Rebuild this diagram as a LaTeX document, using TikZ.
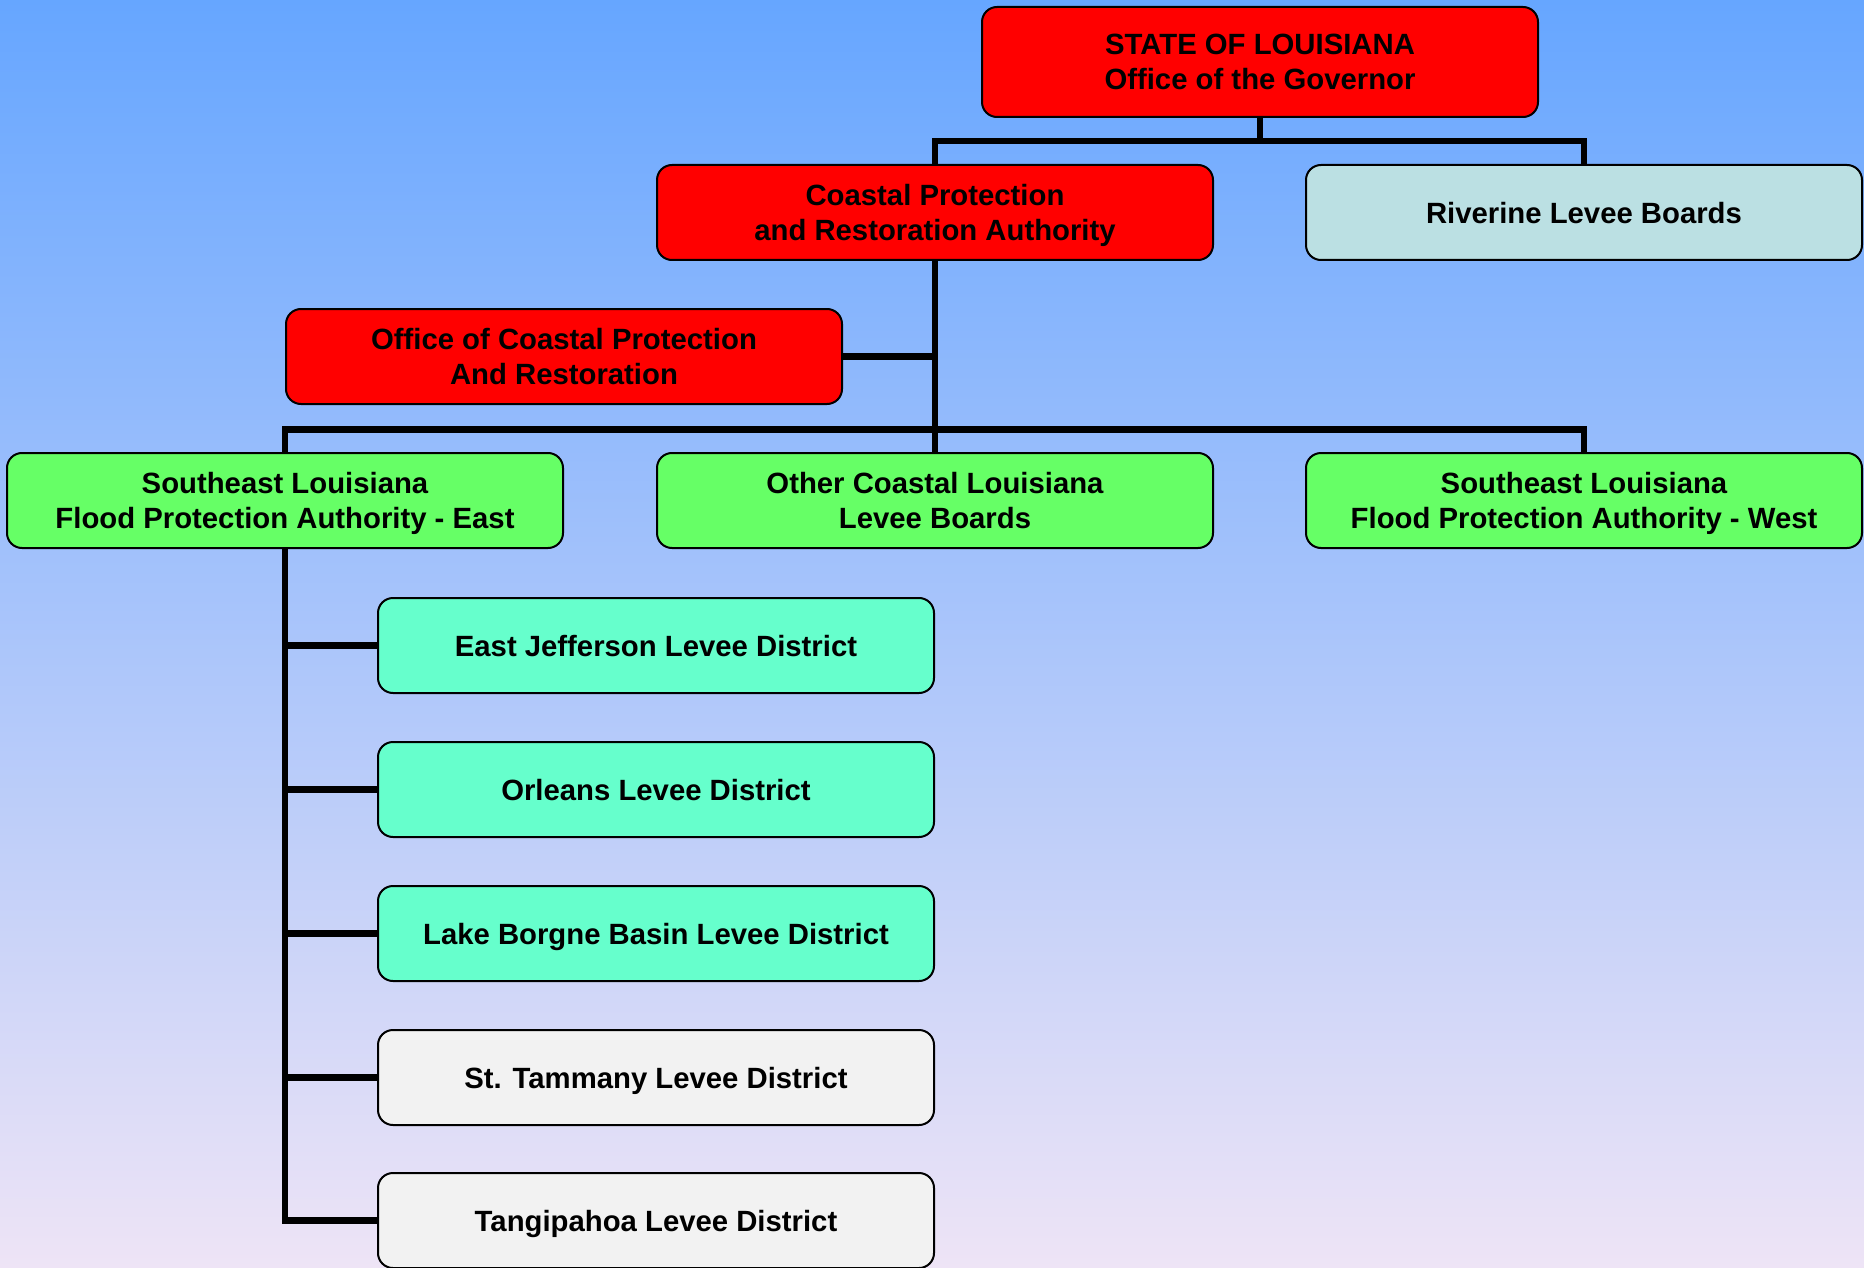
\documentclass[tikz,border=0pt]{standalone}
\usepackage{fontspec}
\setmainfont{Liberation Sans}
\definecolor{bgtop}{RGB}{102,166,255}
\definecolor{bgmid}{RGB}{143,193,252}
\definecolor{bgbot}{RGB}{238,228,246}
\definecolor{boxred}{RGB}{255,0,0}
\definecolor{boxgreen}{RGB}{102,255,102}
\definecolor{boxaqua}{RGB}{102,255,204}
\definecolor{boxriv}{RGB}{187,224,227}
\definecolor{boxgray}{RGB}{242,242,242}
\tikzset{
  orgbox/.style={draw=black, line width=2pt, rounded corners=15pt,
    minimum width=556pt, minimum height=95pt, inner sep=0pt, text depth=-7pt,
    align=center, font=\fontsize{29.3}{35}\selectfont\bfseries},
  redbox/.style={orgbox, fill=boxred},
  greenbox/.style={orgbox, fill=boxgreen},
  aquabox/.style={orgbox, fill=boxaqua},
  rivbox/.style={orgbox, fill=boxriv},
  graybox/.style={orgbox, fill=boxgray},
  link/.style={draw=black, line width=6.5pt}
}
\begin{document}
\begin{tikzpicture}[x=1pt,y=-1pt]
\shade[top color=bgtop, middle color=bgmid, bottom color=bgbot] (0,0) rectangle (1864,1268);
\useasboundingbox (0,0) rectangle (1864,1268);

\node[redbox, minimum height=110pt] (gov) at (1260,62) {STATE OF LOUISIANA\\Office of the Governor};
\node[redbox] (cpra) at (935,212.5) {Coastal Protection\\and Restoration Authority};
\node[rivbox] (riv) at (1584,212.5) {Riverine Levee Boards};
\node[redbox] (ocpr) at (564,356.5) {Office of Coastal Protection\\And Restoration};
\node[greenbox] (east) at (285,500.5) {Southeast Louisiana\\Flood Protection Authority - East};
\node[greenbox] (other) at (935,500.5) {Other Coastal Louisiana\\Levee Boards};
\node[greenbox] (west) at (1584,500.5) {Southeast Louisiana\\Flood Protection Authority - West};
\node[aquabox] (ej) at (656,645.5) {East Jefferson Levee District};
\node[aquabox] (orl) at (656,789.5) {Orleans Levee District};
\node[aquabox] (lb) at (656,933.5) {Lake Borgne Basin Levee District};
\node[graybox] (st) at (656,1077.5) {St. Tammany Levee District};
\node[graybox] (tang) at (656,1220.5) {Tangipahoa Levee District};

\coordinate (j1) at (1260,141);
\coordinate (j2) at (935,429.5);

\path[link] (gov.south) -- (j1);
\path[link] (cpra.north) -- (cpra.north |- j1) -- (riv.north |- j1) -- (riv.north);
\path[link] (cpra.south) -- (other.north);
\path[link] (ocpr.east) -- (ocpr.east -| cpra.south);
\path[link] (east.north) -- (east.north |- j2) -- (west.north |- j2) -- (west.north);
\path[link] (east.south) -- (east.south |- tang.west) -- (tang.west);
\path[link] (ej.west -| east.south) -- (ej.west);
\path[link] (orl.west -| east.south) -- (orl.west);
\path[link] (lb.west -| east.south) -- (lb.west);
\path[link] (st.west -| east.south) -- (st.west);
\end{tikzpicture}
\end{document}
